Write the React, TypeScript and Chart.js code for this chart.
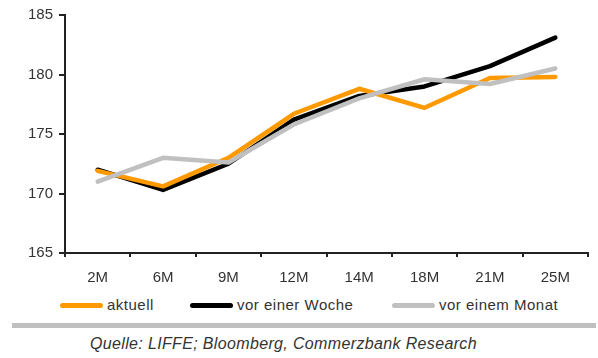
import React, { useEffect, useRef } from "react";
import { Chart, registerables } from "chart.js";

Chart.register(...registerables);

const categories = ["2M", "6M", "9M", "12M", "14M", "18M", "21M", "25M"];
const aktuell = [171.9, 170.6, 173.0, 176.7, 178.8, 177.2, 179.7, 179.8];
const vorEinerWoche = [172.0, 170.3, 172.5, 176.2, 178.2, 179.0, 180.7, 183.1];
const vorEinemMonat = [171.0, 173.0, 172.6, 175.8, 178.0, 179.6, 179.2, 180.5];
const seriesNames = ["aktuell", "vor einer Woche", "vor einem Monat"];
const seriesColors = ["#ff9900", "#000000", "#c0c0c0"];
const yTicks = [165, 170, 175, 180, 185];
const sourceText = "Quelle: LIFFE; Bloomberg, Commerzbank Research";

const FONT = "'Liberation Sans', Arial, sans-serif";

export default function App() {
  const ref = useRef<HTMLCanvasElement>(null);
  useEffect(() => {
    if (!ref.current) return;
    const values = [aktuell, vorEinerWoche, vorEinemMonat];
    const orders = [2, 3, 1];
    const chart = new Chart(ref.current, {
      type: "line",
      data: {
        labels: categories,
        datasets: values.map((v, i) => ({
          label: seriesNames[i],
          data: v,
          borderColor: seriesColors[i],
          backgroundColor: seriesColors[i],
          borderWidth: 4.5,
          pointRadius: 0,
          tension: 0,
          borderCapStyle: "round" as const,
          borderJoinStyle: "round" as const,
          order: orders[i],
        })),
      },
      options: {
        animation: false,
        responsive: false,
        devicePixelRatio: 1,
        layout: { padding: { top: 14, right: 10, left: 0, bottom: 0 } },
        plugins: { legend: { display: false }, tooltip: { enabled: false } },
        scales: {
          x: {
            offset: true,
            grid: {
              offset: true,
              drawOnChartArea: false,
              drawTicks: true,
              tickLength: 4,
              color: "#222",
              lineWidth: 2,
            },
            border: { display: true, color: "#222", width: 2 },
            ticks: {
              font: { family: FONT, size: 15 },
              color: "#333",
              padding: 12,
              maxRotation: 0,
            },
            afterFit: (s: any) => {
              s.height = 37;
            },
          },
          y: {
            min: 165,
            max: 185,
            afterBuildTicks: (s: any) => {
              s.ticks = yTicks.map((v) => ({ value: v }));
            },
            grid: {
              drawOnChartArea: false,
              drawTicks: true,
              tickLength: 6,
              color: "#222",
              lineWidth: 2,
            },
            border: { display: true, color: "#222", width: 2 },
            ticks: {
              font: { family: FONT, size: 15 },
              color: "#333",
              padding: 6,
            },
            afterFit: (s: any) => {
              s.width = 65;
            },
          },
        },
      },
    });
    return () => chart.destroy();
  }, []);

  const legendPos = [
    { line: 60, text: 107 },
    { line: 190, text: 237 },
    { line: 392, text: 439 },
  ];

  return (
    <div
      style={{
        position: "fixed",
        left: 0,
        top: 0,
        width: 598,
        height: 358,
        background: "#fff",
        fontFamily: FONT,
      }}
    >
      <canvas
        ref={ref}
        width={598}
        height={290}
        style={{ position: "absolute", left: 0, top: 0, width: 598, height: 290 }}
      />
      {seriesNames.map((n, i) => (
        <React.Fragment key={n}>
          <div
            style={{
              position: "absolute",
              left: legendPos[i].line,
              top: 303,
              width: 43,
              height: 5,
              borderRadius: 3,
              background: seriesColors[i],
            }}
          />
          <div
            style={{
              position: "absolute",
              left: legendPos[i].text,
              top: 296,
              fontSize: 15,
              lineHeight: "18px",
              letterSpacing: "0.5px",
              color: "#333",
              whiteSpace: "nowrap",
            }}
          >
            {n}
          </div>
        </React.Fragment>
      ))}
      <div
        style={{
          position: "absolute",
          left: 12,
          top: 323,
          width: 584,
          height: 5,
          background: "#c0c0c0",
        }}
      />
      <div
        style={{
          position: "absolute",
          left: 90,
          top: 335,
          fontSize: 16,
          lineHeight: "18px",
          letterSpacing: "0.35px",
          fontStyle: "italic",
          color: "#333",
          whiteSpace: "nowrap",
        }}
      >
        {sourceText}
      </div>
    </div>
  );
}
